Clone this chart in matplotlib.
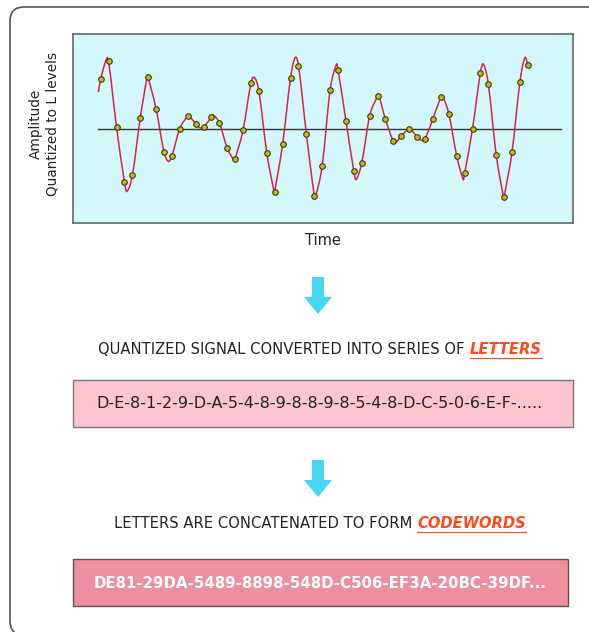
import numpy as np
import matplotlib.pyplot as plt
from matplotlib.patches import FancyBboxPatch, Rectangle, FancyArrow, PathPatch
from matplotlib.path import Path

# amplitudes of the quantized samples (one per time step)
muestras = [0.71, 0.96, 0.02, -0.76, -0.67, 0.15, 0.73, 0.28, -0.33, -0.39,
            0.00, 0.18, 0.07, 0.02, 0.16, 0.08, -0.28, -0.43, -0.02, 0.65,
            0.53, -0.35, -0.90, -0.22, 0.72, 0.90, -0.08, -0.97, -0.53, 0.55,
            0.84, 0.11, -0.61, -0.49, 0.18, 0.47, 0.13, -0.18, -0.10, 0.00,
            -0.12, -0.15, 0.14, 0.45, 0.21, -0.39, -0.64, 0.00, 0.80, 0.63,
            -0.38, -0.98, -0.33, 0.67, 0.91]

# peaks / troughs of the analog signal between samples (time, amplitude)
picos_t = [-0.29, 0.76, 3.29, 5.90, 8.55, 11.08, 12.55, 14.24, 16.89, 19.42,
           21.95, 24.56, 27.09, 29.82, 32.27, 35.09, 37.41, 39.09, 40.78,
           43.22, 45.83, 48.36, 50.97, 53.62]
picos_a = [0.52, 1.00, -0.90, 0.75, -0.47, 0.19, 0.01, 0.19, -0.46, 0.73,
           -0.92, 1.01, -1.00, 0.92, -0.73, 0.50, -0.19, 0.01, -0.18,
           0.46, -0.73, 0.92, -1.01, 1.01]

texto_letras = "D-E-8-1-2-9-D-A-5-4-8-9-8-8-9-8-5-4-8-D-C-5-0-6-E-F-....."
texto_codigos = "DE81-29DA-5489-8898-548D-C506-EF3A-20BC-39DF..."

W, H = 589, 632


def curva_suave(t, a):
    """Path de Bezier (Hermite) que pasa por todos los puntos"""
    t = np.asarray(t, float)
    a = np.asarray(a, float)
    m = np.zeros_like(a)
    m[1:-1] = (a[2:] - a[:-2]) / (t[2:] - t[:-2])
    m[0] = (a[1] - a[0]) / (t[1] - t[0])
    m[-1] = (a[-1] - a[-2]) / (t[-1] - t[-2])
    verts = [(t[0], a[0])]
    codes = [Path.MOVETO]
    for i in range(len(t) - 1):
        h = t[i + 1] - t[i]
        verts += [(t[i] + h / 3, a[i] + m[i] * h / 3),
                  (t[i + 1] - h / 3, a[i + 1] - m[i + 1] * h / 3),
                  (t[i + 1], a[i + 1])]
        codes += [Path.CURVE4] * 3
    return Path(verts, codes)


fig = plt.figure(figsize=(W / 100, H / 100), dpi=100)

# overlay in pixel coordinates for frame, arrows, boxes and texts
bg = fig.add_axes([0, 0, 1, 1])
bg.set_xlim(0, W)
bg.set_ylim(H, 0)
bg.axis('off')

bg.add_patch(FancyBboxPatch((10, 7), 700, 628, boxstyle="round,pad=0,rounding_size=14",
                            fc='white', ec='#555555', lw=1.2))

# signal plot
ax = fig.add_axes([73 / W, (H - 223) / H, 500 / W, 189 / H])
ax.set_facecolor('#d2f8fc')
for s in ax.spines.values():
    s.set_color('#666666')
    s.set_linewidth(1.2)
ax.set_xticks([])
ax.set_yticks([])
ax.set_xlim(-3.5, 59.7)
ax.set_ylim(-1.35, 1.35)

idx = np.arange(len(muestras))
todos_t = list(idx) + picos_t
todos_a = muestras + picos_a
orden = np.argsort(todos_t)
ts = np.array(todos_t)[orden]
as_ = np.array(todos_a)[orden]

ax.plot([-0.3, 58.2], [0, 0], color='#333333', lw=1.0, zorder=2)
ax.add_patch(PathPatch(curva_suave(ts, as_), fc='none', ec='#e01e4c', lw=1.1, zorder=3))
ax.scatter(idx, muestras, s=16, c='#c8b818', edgecolors='#3a3a10', linewidths=0.8, zorder=4)

ax.set_xlabel("Time", fontsize=10.5, color='#222222', labelpad=7)
fig.text(36 / W, 1 - 124 / H, "Amplitude", rotation=90, ha='center', va='center',
         fontsize=9.8, color='#222222')
fig.text(53 / W, 1 - 124 / H, "Quantized to L levels", rotation=90, ha='center',
         va='center', fontsize=9.8, color='#222222')

# down arrows
for y0 in (277, 460):
    bg.add_patch(FancyArrow(318, y0, 0, 37, width=12, head_width=28, head_length=17,
                            length_includes_head=True, fc='#45d8ee', ec='none'))

# captions
def titulo(y, parte1, parte2):
    t1 = bg.text(0, y, parte1 + " ", fontsize=10.6, color='#222222', va='center', ha='left')
    t2 = bg.text(0, y, parte2, fontsize=10.6, color='#ff4a1a', va='center', ha='left',
                 fontstyle='italic', fontweight='bold')
    fig.canvas.draw()
    r = fig.canvas.get_renderer()
    inv = bg.transData.inverted()
    b1 = t1.get_window_extent(r)
    b2 = t2.get_window_extent(r)
    w1 = (inv.transform((b1.x1, 0))[0] - inv.transform((b1.x0, 0))[0])
    w2 = (inv.transform((b2.x1, 0))[0] - inv.transform((b2.x0, 0))[0])
    x0 = 320 - (w1 + w2) / 2
    t1.set_x(x0)
    t2.set_x(x0 + w1)
    bg.plot([x0 + w1, x0 + w1 + w2], [y + 8, y + 8], color='#ff4a1a', lw=0.8)


titulo(350, "QUANTIZED SIGNAL CONVERTED INTO SERIES OF", "LETTERS")
titulo(524, "LETTERS ARE CONCATENATED TO FORM", "CODEWORDS")

# boxes
bg.add_patch(Rectangle((73, 380), 500, 47, fc='#fec4cf', ec='#777777', lw=1.0))
bg.text(320, 404, texto_letras, fontsize=11.5, color='#222222', ha='center', va='center')

bg.add_patch(Rectangle((73, 559), 495, 47, fc='#ee8fa0', ec='#555555', lw=1.0))
bg.text(320, 583, texto_codigos, fontsize=10.8, color='white', fontweight='bold',
        ha='center', va='center')

fig.savefig('out.png', dpi=100)
